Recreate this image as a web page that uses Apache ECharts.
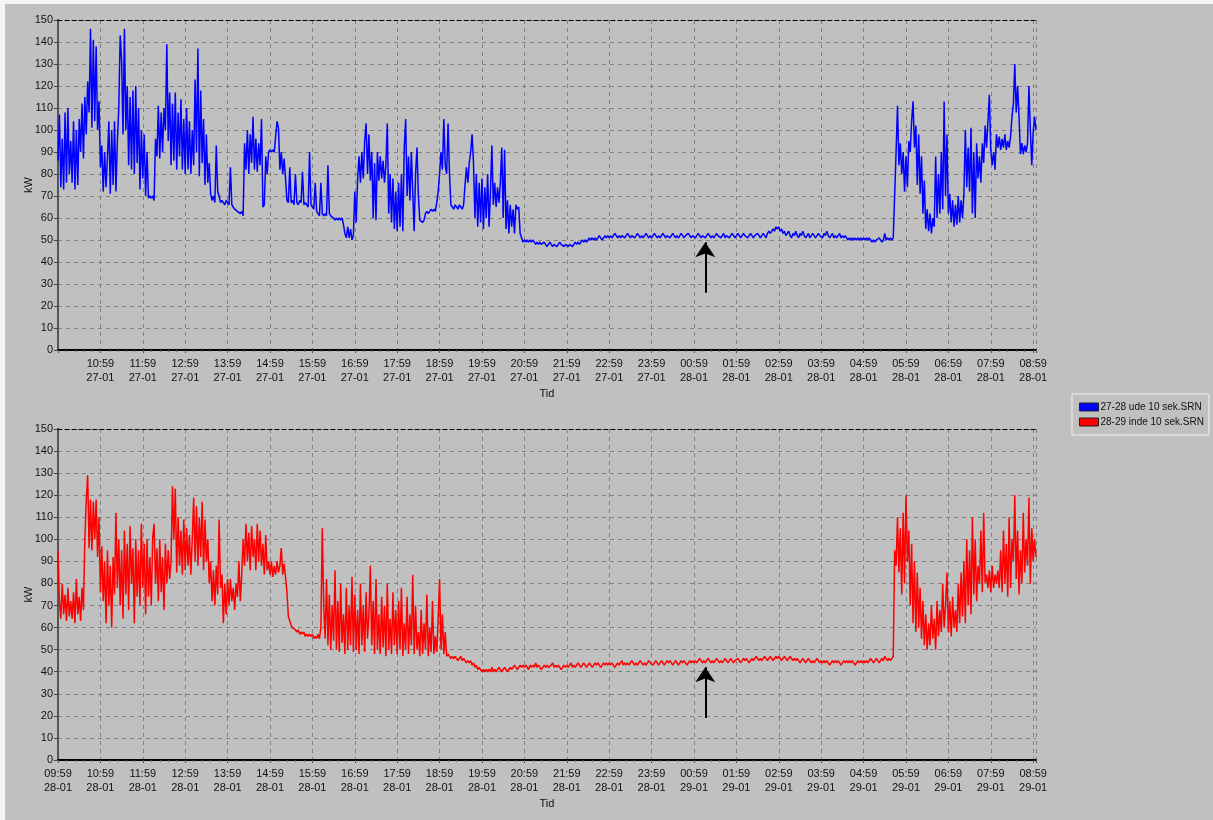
<!DOCTYPE html>
<html>
<head>
<meta charset="utf-8">
<script src="https://cdn.jsdelivr.net/npm/echarts@6/dist/echarts.min.js"></script>
<style>
  html, body { margin: 0; padding: 0; background: #f4f4f4; }
  #chart { width: 1213px; height: 820px; }
</style>
</head>
<body>
<div id="chart"></div>
<script>
// Hourly tick labels (minutes counted from 09:59 on the first day)
const hourLabels = ['09:59','10:59','11:59','12:59','13:59','14:59','15:59','16:59','17:59','18:59','19:59','20:59',
  '21:59','22:59','23:59','00:59','01:59','02:59','03:59','04:59','05:59','06:59','07:59','08:59'];
const upperDates = ['27-01','27-01','27-01','27-01','27-01','27-01','27-01','27-01','27-01','27-01','27-01','27-01',
  '27-01','27-01','27-01','28-01','28-01','28-01','28-01','28-01','28-01','28-01','28-01','28-01'];
const lowerDates = ['28-01','28-01','28-01','28-01','28-01','28-01','28-01','28-01','28-01','28-01','28-01','28-01',
  '28-01','28-01','28-01','29-01','29-01','29-01','29-01','29-01','29-01','29-01','29-01','29-01'];

const upperName = '27-28 ude 10 sek.SRN';
const lowerName = '28-29 inde 10 sek.SRN';

const spanMinutes = 1384;
// One sample every 2 minutes; each row below is one hour (30 samples)
const stepMinutes = 2;

// kW, 27-01 09:59 -> 28-01 09:03
const upperKw = [
  86,107,74,96,73,108,76,110,80,95,76,104,73,100,75,105,90,112,87,115,98,122,108,146,101,141,104,138,100,113,
  83,93,72,90,74,88,104,71,100,75,104,72,95,110,143,132,98,146,100,120,84,115,82,118,80,120,85,110,73,100,
  78,98,70,90,69,70,69,70,68,96,88,111,87,108,90,110,100,139,95,117,84,112,86,117,82,108,88,114,82,105,
  80,110,82,104,80,100,84,123,90,137,79,118,85,105,75,98,76,85,71,68,70,67,93,72,70,67,68,67,66,68,
  67,66,83,66,65,64,64,63,63,62,63,61,94,82,100,80,98,85,106,82,96,81,94,84,105,65,66,88,80,90,
  91,90,91,90,97,104,101,82,90,80,87,78,68,67,83,67,68,66,80,67,66,68,67,81,66,67,66,65,90,66,
  65,64,76,63,62,61,76,62,61,62,61,84,62,61,61,60,59,60,59,60,59,60,57,53,51,56,51,55,50,52,
  72,58,78,88,76,90,78,95,103,80,98,77,90,60,85,59,90,77,88,78,86,76,84,103,62,80,58,78,55,72,
  54,76,56,80,54,92,105,70,88,68,90,72,54,80,92,70,59,59,58,59,62,63,62,63,64,63,64,63,67,72,
  80,90,82,105,84,80,103,80,66,65,64,66,65,64,66,65,64,66,75,83,76,85,90,98,85,60,80,56,76,58,
  78,55,74,60,80,56,72,93,66,76,65,74,67,76,92,60,91,55,68,53,66,56,64,53,66,64,65,53,51,49,
  50,49,50,49,50,49,50,49,48,49,48,49,48,48,49,48,47,48,49,48,47,48,48,47,48,49,48,48,47,48,
  48,47,48,48,47,48,49,48,49,48,49,50,49,50,49,50,51,50,51,50,51,50,51,52,51,50,51,52,51,52,
  51,52,51,52,53,52,51,52,51,52,52,51,52,53,52,51,52,52,51,52,53,52,51,52,51,52,53,52,51,52,
  51,52,53,52,51,52,51,52,53,52,51,52,52,51,52,53,52,51,52,51,52,53,52,51,52,52,53,52,51,52,
  52,51,52,53,52,51,52,52,51,52,53,52,51,52,51,52,53,52,52,51,52,53,51,52,52,51,52,53,52,51,
  52,53,52,51,52,53,52,52,51,52,53,52,51,52,52,53,52,51,52,53,52,51,53,54,53,54,55,54,56,55,
  56,54,55,53,54,52,53,54,52,51,53,52,54,52,51,53,52,54,52,51,52,53,51,52,53,52,51,52,53,52,
  52,51,53,52,54,52,51,52,53,51,52,51,52,53,51,52,51,52,51,50,51,50,51,50,51,50,51,50,51,50,
  51,50,51,50,51,50,49,50,49,50,50,51,50,49,50,53,50,51,50,51,50,51,51,90,111,84,94,80,90,72,
  88,74,95,90,104,113,92,102,75,98,71,88,62,77,55,64,54,62,53,60,56,88,60,80,62,90,64,113,70,98,
  62,71,58,68,56,66,57,70,58,68,60,71,100,74,92,72,101,62,90,60,94,78,88,76,94,85,102,92,104,116,
  91,84,90,82,98,92,97,91,96,92,98,91,95,92,97,106,112,130,108,120,106,89,94,89,93,90,94,120,100,84,
  99,106,100
];

// kW, 28-01 09:59 -> 29-01 09:03
const lowerKw = [
  95,72,64,80,66,75,63,78,65,72,64,76,62,82,66,74,63,78,68,100,118,129,96,118,95,117,100,118,92,110,
  76,97,72,90,62,95,70,88,60,92,75,112,78,100,70,95,64,104,75,98,68,106,80,96,62,100,74,95,70,107,
  78,98,66,100,74,92,70,101,107,80,96,72,100,76,92,68,98,80,95,82,90,124,100,123,85,110,88,104,84,109,
  86,105,88,102,84,100,119,90,115,88,110,92,117,86,109,90,100,80,90,72,86,70,88,75,109,78,84,62,80,66,
  82,70,82,72,78,68,80,74,90,72,84,100,88,107,90,103,86,106,92,100,86,107,90,104,88,98,84,102,86,90,
  84,90,83,88,84,90,85,88,96,84,89,83,76,65,63,61,60,60,59,58,59,57,58,57,58,56,57,56,57,56,
  57,55,56,55,57,55,60,105,70,55,82,52,75,50,70,54,86,50,72,49,80,53,66,48,78,50,70,52,83,49,
  75,50,68,48,80,52,70,49,76,55,66,88,52,72,48,82,50,66,48,74,51,70,47,80,50,64,48,76,52,68,
  48,72,50,78,47,62,50,74,48,66,52,84,48,70,50,58,47,68,48,62,50,75,47,60,49,72,48,56,49,64,
  82,50,66,48,58,47,48,47,46,47,46,47,46,45,46,47,45,46,45,44,45,44,45,43,44,42,43,41,42,41,
  40,41,40,41,40,41,40,42,40,41,40,41,42,41,40,41,42,41,40,41,42,41,42,43,42,41,42,43,42,43,
  42,43,42,41,43,42,43,42,44,42,43,42,41,42,43,42,43,42,42,43,44,42,43,42,43,42,41,42,43,42,
  43,42,43,44,42,43,42,43,44,43,42,43,44,43,42,43,44,43,42,43,44,43,44,43,42,43,44,43,44,43,
  44,43,44,43,42,43,44,43,44,45,43,44,43,44,43,44,45,44,43,44,43,44,45,44,43,44,43,44,45,44,
  44,43,44,45,44,43,44,45,44,43,44,45,44,45,44,43,44,45,44,43,44,45,44,45,44,43,44,45,44,45,
  44,45,44,45,46,45,44,45,44,45,46,45,44,45,44,45,46,45,44,45,44,45,46,45,44,45,46,45,44,45,
  45,46,45,44,45,46,45,46,45,44,45,46,45,46,47,46,45,46,45,46,47,46,45,46,47,46,45,46,47,46,
  47,46,45,46,47,46,45,46,47,46,45,46,45,46,45,44,45,46,45,44,45,46,45,44,45,44,45,46,45,44,
  45,44,45,44,45,44,43,44,45,44,45,44,45,44,43,44,45,44,45,44,45,44,45,44,43,44,45,44,45,44,
  45,44,45,44,45,46,45,44,45,46,45,44,45,46,45,47,46,45,46,45,46,47,95,88,110,85,105,75,112,80,
  120,90,104,70,98,62,90,58,85,60,78,55,72,52,66,50,62,52,70,55,64,50,72,56,68,58,80,60,70,85,
  58,72,56,74,60,68,58,80,62,85,65,90,62,100,70,95,66,110,75,100,72,88,80,104,76,112,80,84,78,86,
  76,88,78,84,80,86,78,95,76,104,80,98,74,110,78,100,90,120,82,104,75,95,80,112,85,100,88,119,80,105,
  90,100,92
];

// Arrow annotations pointing at the night-time base load
const arrowMinute = 916;
const upperArrow = [26, 49];
const lowerArrow = [19, 42];

const fontFamily = '"Liberation Sans", Arial, sans-serif';
const textColor = '#111';
const gridColor = '#808080';

function toPoints(values) {
  return values.map((v, i) => [i * stepMinutes, v]);
}

function timeLabel(dates, skipFirst) {
  return function (value) {
    if (value % 60 !== 0) return '';
    const idx = value / 60;
    if (skipFirst && idx === 0) return '';
    if (idx >= hourLabels.length) return '';
    return hourLabels[idx] + '\n' + dates[idx];
  };
}

function bottomAxis(gridIndex, dates, skipFirst) {
  return {
    type: 'value', gridIndex, min: 0, max: spanMinutes, interval: 60,
    name: 'Tid', nameLocation: 'middle', nameGap: 38, nameMoveOverlap: false,
    nameTextStyle: { fontFamily, fontSize: 11, color: textColor },
    axisLine: { show: true, onZero: false, lineStyle: { color: '#000', width: 2 } },
    axisTick: { show: true, length: 3, lineStyle: { color: '#555' } },
    minorTick: { show: true, splitNumber: 5, length: 2, lineStyle: { color: '#666' } },
    axisLabel: { formatter: timeLabel(dates, skipFirst), fontFamily, fontSize: 11, color: textColor,
      lineHeight: 14, margin: 7, showMaxLabel: false },
    splitLine: { show: true, lineStyle: { color: gridColor, type: [4, 4], width: 1 } }
  };
}

function topAxis(gridIndex) {
  return {
    type: 'value', gridIndex, min: 0, max: spanMinutes, position: 'top',
    axisLine: { show: true, onZero: false, lineStyle: { color: '#000', type: [4, 3], width: 1 } },
    axisTick: { show: false }, axisLabel: { show: false }, splitLine: { show: false }
  };
}

function leftAxis(gridIndex) {
  return {
    type: 'value', gridIndex, min: 0, max: 150, interval: 10,
    name: 'kW', nameLocation: 'middle', nameGap: 24, nameRotate: 90, nameMoveOverlap: false,
    nameTextStyle: { fontFamily, fontSize: 11, color: textColor },
    axisLine: { show: true, lineStyle: { color: '#000', width: 2 } },
    axisTick: { show: true, length: 4, lineStyle: { color: '#444' } },
    axisLabel: { fontFamily, fontSize: 11, color: textColor, margin: 5 },
    splitLine: { show: true, lineStyle: { color: gridColor, type: [4, 4], width: 1 } }
  };
}

function rightAxis(gridIndex) {
  return {
    type: 'value', gridIndex, min: 0, max: 150, position: 'right',
    axisLine: { show: true, lineStyle: { color: '#555', width: 2 } },
    axisTick: { show: false }, axisLabel: { show: false }, splitLine: { show: false }
  };
}

function arrowMark(range) {
  return {
    silent: true, animation: false,
    symbol: ['none', 'arrow'], symbolSize: [15, 15],
    label: { show: false },
    lineStyle: { color: '#000', width: 2, type: 'solid' },
    data: [[{ coord: [arrowMinute, range[0]] }, { coord: [arrowMinute, range[1]] }]]
  };
}

const chart = echarts.init(document.getElementById('chart'), null, { renderer: 'canvas' });
chart.setOption({
  backgroundColor: '#c0c0c0',
  animation: false,
  grid: [
    { left: 58, top: 20, width: 978, height: 330 },
    { left: 58, top: 429, width: 978, height: 331 }
  ],
  xAxis: [bottomAxis(0, upperDates, true), bottomAxis(1, lowerDates, false), topAxis(0), topAxis(1)],
  yAxis: [leftAxis(0), leftAxis(1), rightAxis(0), rightAxis(1)],
  legend: {
    data: [upperName, lowerName], orient: 'vertical', left: 1072, top: 394,
    icon: 'rect', itemWidth: 19, itemHeight: 8, itemGap: 5,
    padding: [8, 5, 8, 7],
    backgroundColor: '#c0c0c0', borderColor: '#f0f0f0', borderWidth: 1,
    itemStyle: { borderColor: '#222', borderWidth: 1 },
    textStyle: { fontFamily, fontSize: 10, color: textColor, padding: [0, 0, 0, -3] }
  },
  graphic: [
    { type: 'rect', shape: { x: 0, y: 0, width: 1213, height: 4 }, style: { fill: '#f4f4f4' }, silent: true },
    { type: 'rect', shape: { x: 0, y: 0, width: 5, height: 820 }, style: { fill: '#f4f4f4' }, silent: true }
  ],
  series: [
    {
      name: upperName, type: 'line', xAxisIndex: 0, yAxisIndex: 0,
      data: toPoints(upperKw), showSymbol: false,
      lineStyle: { color: '#0000ff', width: 1.5 }, itemStyle: { color: '#0000ff' },
      markLine: arrowMark(upperArrow)
    },
    {
      name: lowerName, type: 'line', xAxisIndex: 1, yAxisIndex: 1,
      data: toPoints(lowerKw), showSymbol: false,
      lineStyle: { color: '#ff0000', width: 1.5 }, itemStyle: { color: '#ff0000' },
      markLine: arrowMark(lowerArrow)
    }
  ]
});
</script>
</body>
</html>
